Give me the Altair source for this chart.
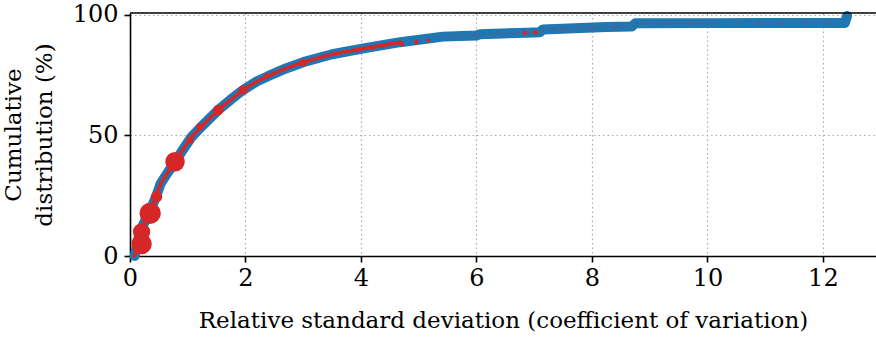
import altair as alt
import pandas as pd

# Empirical CDF (blue)
cdf_x = [0.08, 0.1, 0.13, 0.17, 0.25, 0.35, 0.45, 0.53, 0.65, 0.78, 0.9, 1.07, 1.25, 1.53, 1.75,
         1.96, 2.2, 2.4, 2.7, 3.0, 3.5, 4.07, 4.68, 5.42, 6.0, 6.06, 6.87, 7.1, 7.15, 8.25,
         8.69, 8.75, 10.0, 12.38, 12.42]
cdf_y = [0, 2, 5, 10, 14, 19, 24.5, 30, 34.5, 39, 43.5, 49.5, 54, 60.6, 65,
         68.9, 72.5, 74.7, 77.8, 80.4, 83.7, 86.2, 88.7, 91, 91.5, 92, 92.6, 92.8, 94, 95,
         95.2, 96.5, 96.6, 96.7, 99.6]

# Red points
pt_x = [0.2, 0.2, 0.35, 0.46, 0.78, 1.04, 1.21, 1.53, 1.96, 2.37, 3.0, 3.9,
        4.21, 4.38, 4.7, 4.96, 5.17, 6.84, 7.02,
        7.5, 8.0, 8.4, 8.9, 9.3, 9.7, 10.1, 10.5, 10.9, 11.3, 11.7, 12.1]
pt_y = [5.0, 10.0, 17.7, 24.6, 39.1, 48.1, 53.6, 60.6, 68.9, 74.7, 80.2, 85.5,
        86.4, 87.0, 88.0, 88.7, 89.4, 92.6, 92.8,
        94.2, 94.4, 94.6, 96.5, 96.5, 96.5, 96.6, 96.6, 96.6, 96.6, 96.7, 96.7]
pt_w = [420, 300, 450, 130, 380, 50, 50, 110, 80, 28, 50, 20,
        20, 14, 28, 20, 14, 20, 20,
        8, 8, 8, 8, 8, 8, 8, 8, 8, 8, 8, 8]
pt_a = [1] * 19 + [0.35] * 12

cdf = pd.DataFrame({"x": cdf_x, "y": cdf_y, "o": range(len(cdf_x))})
pts = pd.DataFrame({"x": pt_x, "y": pt_y, "w": pt_w, "a": pt_a})

FONT = "DejaVu Serif"
xs = alt.Scale(domain=[0, 12.92], nice=False, zero=False)
ys = alt.Scale(domain=[0, 100.8], nice=False)

xax = alt.Axis(values=[0, 2, 4, 6, 8, 10, 12], format="d",
               title="Relative standard deviation (coefficient of variation)",
               grid=True, labelFlush=False, labelFont=FONT, titleFont=FONT)
yax = alt.Axis(values=[0, 50, 100], format="d", title=["Cumulative", "distribution (%)"],
               grid=True, labelFlush=False, labelFont=FONT, titleFont=FONT)

blue = alt.Chart(cdf).mark_line(color="#1f77b4", strokeWidth=10, strokeCap="round",
                                 strokeJoin="round", clip=False).encode(
    x=alt.X("x:Q", scale=xs, axis=xax),
    y=alt.Y("y:Q", scale=ys, axis=yax),
    order="o:Q",
)

red_line = alt.Chart(cdf).transform_filter(alt.datum.x <= 5.2).mark_line(
    color="#d62728", strokeWidth=3.5, strokeCap="round").encode(
    x=alt.X("x:Q", scale=xs), y=alt.Y("y:Q", scale=ys), order="o:Q")

red_faint = alt.Chart(cdf).transform_filter(alt.datum.x >= 5.2).transform_filter(alt.datum.x <= 12.3).mark_line(
    color="#d62728", strokeWidth=2, opacity=0.3, strokeDash=[2, 3]).encode(
    x=alt.X("x:Q", scale=xs), y=alt.Y("y:Q", scale=ys), order="o:Q")

red_pts = alt.Chart(pts).mark_circle(color="#d62728").encode(
    x=alt.X("x:Q", scale=xs), y=alt.Y("y:Q", scale=ys),
    size=alt.Size("w:Q", scale=alt.Scale(domain=[0, 450], range=[0, 450]), legend=None),
    opacity=alt.Opacity("a:Q", scale=None, legend=None),
)

top = alt.Chart(pd.DataFrame({"a": [0]})).mark_rule(color="black", strokeWidth=1.6).encode(
    y=alt.value(0), x=alt.value(0), x2=alt.value(746))

chart = alt.layer(blue, red_line, red_faint, red_pts, top).properties(
    width=746, height=243,
    autosize=alt.AutoSizeParams(type="none"),
    padding={"left": 130, "top": 13, "right": 0, "bottom": 82},
).configure(font=FONT).configure_view(stroke=None).configure_axis(
    labelFont=FONT, titleFont=FONT, labelFontSize=24, titleFontSize=23,
    titleFontWeight="normal", labelColor="black", titleColor="black",
    domainColor="black", domainWidth=1.6, tickColor="black", tickWidth=1.6, tickSize=6,
    gridColor="#aaaaaa", gridDash=[1.5, 3], gridWidth=1.2,
).configure_axisX(labelPadding=4, titlePadding=19).configure_axisY(
    labelPadding=6, titlePadding=16, titleLineHeight=31)

chart.save("out.html", embed_options={"renderer": "svg", "actions": False})
